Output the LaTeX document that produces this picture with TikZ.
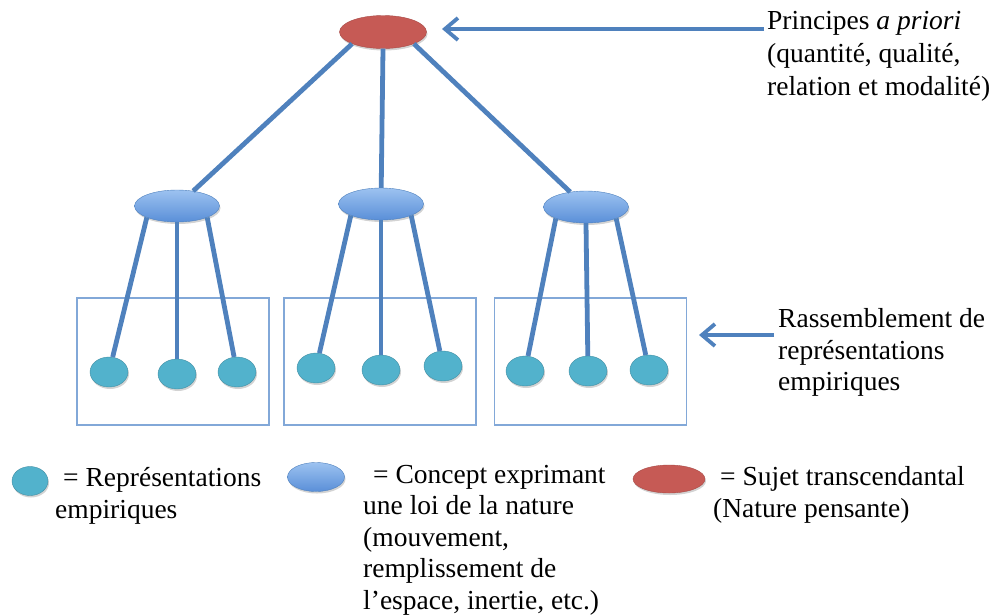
\documentclass[tikz,border=0pt]{standalone}
\usepackage{fontspec}
\setmainfont{Liberation Serif}
\usetikzlibrary{shapes.geometric,shadows,arrows.meta}

\definecolor{linkblue}{HTML}{4F81BD}
\definecolor{boxblue}{HTML}{82A8D8}
\definecolor{sujetred}{HTML}{C65A55}
\definecolor{empcyan}{HTML}{52B2CC}
\definecolor{conceptlight}{HTML}{9CC2F0}
\definecolor{conceptdark}{HTML}{5A8FD8}

\tikzset{
  shade/.style={drop shadow={opacity=0.35, shadow xshift=1pt, shadow yshift=-2pt}},
  sujet/.style={ellipse, shade, draw=sujetred!85!black, fill=sujetred, inner sep=0pt, minimum width=87pt, minimum height=33pt},
  concept/.style={ellipse, shade, draw=linkblue, top color=conceptlight, bottom color=conceptdark, inner sep=0pt, minimum width=85pt, minimum height=32pt},
  empir/.style={ellipse, shade, draw=empcyan!80!black, fill=empcyan, inner sep=0pt, minimum width=38pt, minimum height=30pt},
  groupbox/.style={draw=boxblue, line width=1.3pt, inner sep=0pt, minimum width=192pt, minimum height=127pt},
  link/.style={draw=linkblue, line width=4.8pt},
  pointer/.style={link, line width=3.8pt, -{Straight Barb[length=13pt,width=22pt]}},
  note/.style={anchor=north west, align=left, inner sep=0pt, font=\fontsize{27.5}{31.5}\selectfont}
}

\begin{document}
\begin{tikzpicture}[x=1pt, y=-1pt]
    \useasboundingbox (0,0) rectangle (996,614);

    % sujet transcendantal
    \node[sujet] (sujet) at (383,32) {};
    \node[note, font=\fontsize{27.5}{33}\selectfont] (principes) at (767,11)
        {Principes \textit{a priori}\\(quantité, qualité,\\relation et modalité)};
    \coordinate (principestail) at (764,29);
    \coordinate (principestip) at (442,29);
    \draw[pointer] (principestail) -- (principestip);

    % concepts
    \node[concept] (conceptA) at (177,206) {};
    \node[concept] (conceptB) at (381,204) {};
    \node[concept] (conceptC) at (586,207) {};

    \draw[link] (sujet.south west) -- (conceptA);
    \draw[link] (sujet.south) -- (conceptB);
    \draw[link] (sujet.south east) -- (conceptC);

    % rassemblements
    \node[groupbox] (groupA) at (173,361.5) {};
    \node[groupbox] (groupB) at (380,361.5) {};
    \node[groupbox] (groupC) at (590.5,361.5) {};

    \node[empir] (empA1) at (109,372) {};
    \node[empir] (empA2) at (177,374) {};
    \node[empir] (empA3) at (237,372) {};
    \node[empir] (empB1) at (316,368) {};
    \node[empir] (empB2) at (381,370) {};
    \node[empir] (empB3) at (443,366) {};
    \node[empir] (empC1) at (525,371) {};
    \node[empir] (empC2) at (588,371) {};
    \node[empir] (empC3) at (649,370) {};

    \draw[link] (conceptA.south west) -- (empA1);
    \draw[link] (conceptA.south) -- (empA2);
    \draw[link] (conceptA.south east) -- (empA3);
    \draw[link] (conceptB.south west) -- (empB1);
    \draw[link] (conceptB.south) -- (empB2);
    \draw[link] (conceptB.south east) -- (empB3);
    \draw[link] (conceptC.south west) -- (empC1);
    \draw[link] (conceptC.south) -- (empC2);
    \draw[link] (conceptC.south east) -- (empC3);

    \node[note] (rassemblement) at (778,308.5)
        {Rassemblement de\\représentations\\empiriques};
    \coordinate (rassemblementtail) at (774,335);
    \coordinate (rassemblementtip) at (699,335);
    \draw[pointer] (rassemblementtail) -- (rassemblementtip);

    % legende
    \node[empir, minimum width=36pt, minimum height=29pt] (legempir) at (30,481) {};
    \node[note] (legempirtext) at (55,467.5)
        {\hspace*{8pt}= Représentations\\empiriques};
    \node[concept, minimum width=57pt, minimum height=29pt] (legconcept) at (316,477) {};
    \node[note] (legconcepttext) at (363,465)
        {\hspace*{10pt}= Concept exprimant\\une loi de la nature\\(mouvement,\\remplissement de\\l'espace, inertie, etc.)};
    \node[sujet, minimum width=72pt, minimum height=28pt] (legsujet) at (669,479) {};
    \node[note] (legsujettext) at (713,466.5)
        {\hspace*{7pt}= Sujet transcendantal\\(Nature pensante)};

\end{tikzpicture}
\end{document}
